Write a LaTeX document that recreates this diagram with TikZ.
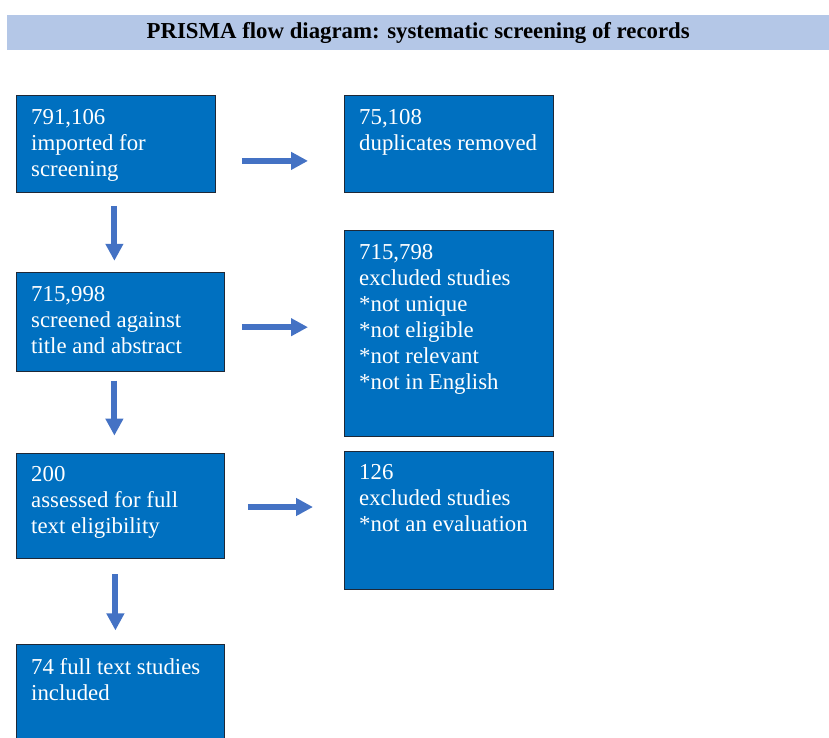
\documentclass[tikz,border=0pt]{standalone}
\usepackage{fontspec}
\setmainfont{Liberation Serif}
\usepackage{tikz}
\usetikzlibrary{arrows.meta,positioning}
\definecolor{stageblue}{RGB}{0,112,192}
\definecolor{stageedge}{RGB}{30,40,55}
\definecolor{flowblue}{RGB}{68,114,196}
\definecolor{titleblue}{RGB}{180,199,231}
\newcommand{\stagefont}{\fontsize{22.8}{26}\selectfont}
\newcommand{\titlefont}{\fontsize{22.8}{26}\selectfont\bfseries}

\begin{document}
\begin{tikzpicture}[
  x=1pt, y=1pt,
  titlebar/.style={fill=titleblue, minimum width=822pt, minimum height=35pt, inner sep=0pt, font=\titlefont},
  stagetext/.style={anchor=north west, align=left, inner sep=0pt, text=white, font=\stagefont, xshift=15pt, yshift=-14pt},
  stage/.style={draw=stageedge, line width=0.8pt, fill=stageblue, inner sep=0pt, anchor=north west,
    label={[stagetext]north west:{#1}}},
  flow/.style={-{Triangle[width=17pt, length=17pt]}, line width=6pt, draw=flowblue}
]
\useasboundingbox (0,0) rectangle (829,-738);

\node[titlebar, anchor=north west] (title) at (7,-15) {PRISMA flow diagram: systematic screening of records};

% left column
\node[stage={791,106\\imported for\\screening}, minimum width=199pt, minimum height=97pt] (imp) at (16,-95) {};
\node[stage={715,998\\screened against\\title and abstract}, minimum width=208pt, minimum height=99pt,
  below=79pt of imp.south west, anchor=north west] (scr) {};
\node[stage={200\\assessed for full\\text eligibility}, minimum width=208pt, minimum height=105pt,
  below=81pt of scr.south west, anchor=north west] (ass) {};
\node[stage={74 full text studies\\included}, minimum width=208pt, minimum height=120pt,
  below=86pt of ass.south west, anchor=north west] (inc) {};

% right column
\node[stage={75,108\\duplicates removed}, minimum width=209pt, minimum height=97pt] (dup) at (344,-95) {};
\node[stage={715,798\\excluded studies\\*not unique\\*not eligible\\*not relevant\\*not in English}, minimum width=209pt, minimum height=206pt,
  below=37pt of dup.south west, anchor=north west] (exc) {};
\node[stage={126\\excluded studies\\*not an evaluation}, minimum width=209pt, minimum height=138pt,
  below=14pt of exc.south west, anchor=north west] (rej) {};

% arrows
\draw[flow, shorten <=26pt, shorten >=36pt] ([yshift=-17pt]imp.east) -- ([yshift=-17pt]imp.east -| dup.west);
\draw[flow, shorten <=17pt, shorten >=36pt] ([yshift=-5.5pt]scr.east) -- ([yshift=-5.5pt]scr.east -| exc.west);
\draw[flow, shorten <=23pt, shorten >=31pt] ([yshift=-1.5pt]ass.east) -- ([yshift=-1.5pt]ass.east -| rej.west);
\draw[flow, shorten <=13pt, shorten >=11pt] ([xshift=-1.5pt]imp.south) -- ([xshift=-1.5pt]imp.south |- scr.north);
\draw[flow, shorten <=9pt, shorten >=17pt] ([xshift=-6pt]scr.south) -- ([xshift=-6pt]scr.south |- ass.north);
\draw[flow, shorten <=16pt, shorten >=14pt] ([xshift=-5pt]ass.south) -- ([xshift=-5pt]ass.south |- inc.north);
\end{tikzpicture}
\end{document}
